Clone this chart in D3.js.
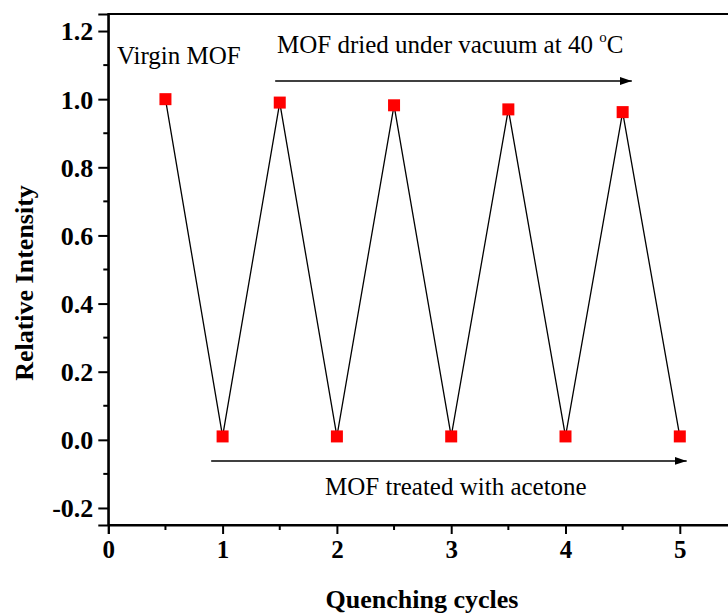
<!DOCTYPE html>
<html>
<head>
<meta charset="utf-8">
<script src="https://cdn.jsdelivr.net/npm/d3@7/dist/d3.min.js"></script>
<style>
  html, body { margin: 0; padding: 0; background: #fff; }
  svg { display: block; }
  svg text { font-family: 'Liberation Serif', 'Times New Roman', Times, 'DejaVu Serif', serif !important; fill: #000; }
</style>
</head>
<body>
<svg id="chart" width="728" height="615"></svg>
<script>
// ---- data ----
const cycles = [0.5, 1, 1.5, 2, 2.5, 3, 3.5, 4, 4.5, 5];
const intensity = [1.00, 0.01, 0.99, 0.01, 0.982, 0.01, 0.97, 0.01, 0.962, 0.01];
const xTicks = [0, 1, 2, 3, 4, 5];
const yTicks = [-0.2, 0.0, 0.2, 0.4, 0.6, 0.8, 1.0, 1.2];
const yTickLabels = ["-0.2", "0.0", "0.2", "0.4", "0.6", "0.8", "1.0", "1.2"];
const xLabel = "Quenching cycles";
const yLabel = "Relative Intensity";
const noteVirgin = "Virgin MOF";
const noteDried = "MOF dried under vacuum at 40 ";
const noteAcetone = "MOF treated with acetone";
const driedArrow = [1.46, 4.58];
const acetoneArrow = [0.9, 5.06];

// ---- layout ----
const padLeft = 108.3, padTop = 14, padBottom = 525;
const x = d3.scaleLinear().domain([0, 5.5]).range([padLeft, padLeft + 5.5 * 114.3]);
const y = d3.scaleLinear().domain([-0.25, 1.25]).range([padBottom, padTop]);
const serif = "'Liberation Serif', 'Times New Roman', Times, 'DejaVu Serif', serif";

const svg = d3.select("#chart");

const defs = svg.append("defs");
defs.append("marker").attr("id", "arrow")
  .attr("viewBox", "0 0 12 8").attr("refX", 12).attr("refY", 4)
  .attr("markerWidth", 12).attr("markerHeight", 8)
  .attr("markerUnits", "userSpaceOnUse").attr("orient", "auto")
  .append("path").attr("d", "M0,0 L12,4 L0,8 Z").attr("fill", "#000");

// frame (top and right)
svg.append("rect")
  .attr("x", x(0)).attr("y", y(1.25))
  .attr("width", x(5.5) - x(0)).attr("height", y(-0.25) - y(1.25))
  .attr("fill", "none").attr("stroke", "#000").attr("stroke-width", 2);

// axes
const yAxis = d3.axisLeft(y).tickValues(yTicks)
  .tickFormat((d, i) => yTickLabels[i])
  .tickSize(10).tickPadding(5);
const gy = svg.append("g").attr("transform", `translate(${x(0)},0)`).call(yAxis)
  .attr("font-family", serif);
gy.select(".domain").attr("stroke-width", 2);
gy.selectAll(".tick line").attr("stroke-width", 2);
gy.selectAll(".tick text").attr("font-size", 26).attr("font-weight", "bold")
  .attr("dy", "0.34em");

const yMinor = d3.range(-0.1, 1.21, 0.2).map(v => +v.toFixed(2));
gy.selectAll(".minor").data(yMinor).enter().append("line")
  .attr("x1", 0).attr("x2", -5).attr("y1", d => y(d)).attr("y2", d => y(d))
  .attr("stroke", "#000").attr("stroke-width", 2);

const xAxis = d3.axisBottom(x).tickValues(xTicks).tickFormat(d3.format("d"))
  .tickSize(9).tickPadding(6);
const gx = svg.append("g").attr("transform", `translate(0,${y(-0.25)})`).call(xAxis)
  .attr("font-family", serif);
gx.select(".domain").attr("stroke-width", 2);
gx.selectAll(".tick line").attr("stroke-width", 2);
gx.selectAll(".tick text").attr("font-size", 25).attr("font-weight", "bold");

const xMinor = [0.5, 1.5, 2.5, 3.5, 4.5, 5.5];
gx.selectAll(".minor").data(xMinor).enter().append("line")
  .attr("x1", d => x(d)).attr("x2", d => x(d)).attr("y1", 0).attr("y2", 5)
  .attr("stroke", "#000").attr("stroke-width", 2);

// axis titles
svg.append("text").attr("x", 422).attr("y", 608).attr("text-anchor", "middle")
  .attr("font-size", 26).attr("font-weight", "bold").text(xLabel);
svg.append("text").attr("transform", "translate(33,283) rotate(-90)")
  .attr("text-anchor", "middle").attr("font-size", 26).attr("font-weight", "bold")
  .text(yLabel);

// data line
const pts = cycles.map((c, i) => [c, intensity[i]]);
svg.append("path").datum(pts)
  .attr("d", d3.line().x(d => x(d[0])).y(d => y(d[1])))
  .attr("fill", "none").attr("stroke", "#000").attr("stroke-width", 1.3);

// markers
svg.selectAll(".pt").data(pts).enter().append("rect")
  .attr("x", d => x(d[0]) - 6).attr("y", d => y(d[1]) - 6)
  .attr("width", 12).attr("height", 12).attr("fill", "#ff0000");

// annotations
svg.append("text").attr("x", 117).attr("y", 64).attr("font-size", 25).text(noteVirgin);

const t = svg.append("text").attr("x", 277).attr("y", 53).attr("font-size", 25).text(noteDried);
t.append("tspan").attr("font-size", 15).attr("dy", -11).text("o");
t.append("tspan").attr("dy", 11).text("C");

svg.append("line")
  .attr("x1", x(driedArrow[0])).attr("x2", x(driedArrow[1]))
  .attr("y1", 81).attr("y2", 81)
  .attr("stroke", "#000").attr("stroke-width", 1.5).attr("marker-end", "url(#arrow)");

svg.append("line")
  .attr("x1", x(acetoneArrow[0])).attr("x2", x(acetoneArrow[1]))
  .attr("y1", y(-0.062)).attr("y2", y(-0.062))
  .attr("stroke", "#000").attr("stroke-width", 1.5).attr("marker-end", "url(#arrow)");

svg.append("text").attr("x", 325).attr("y", 495).attr("font-size", 25).text(noteAcetone);
</script>
</body>
</html>
